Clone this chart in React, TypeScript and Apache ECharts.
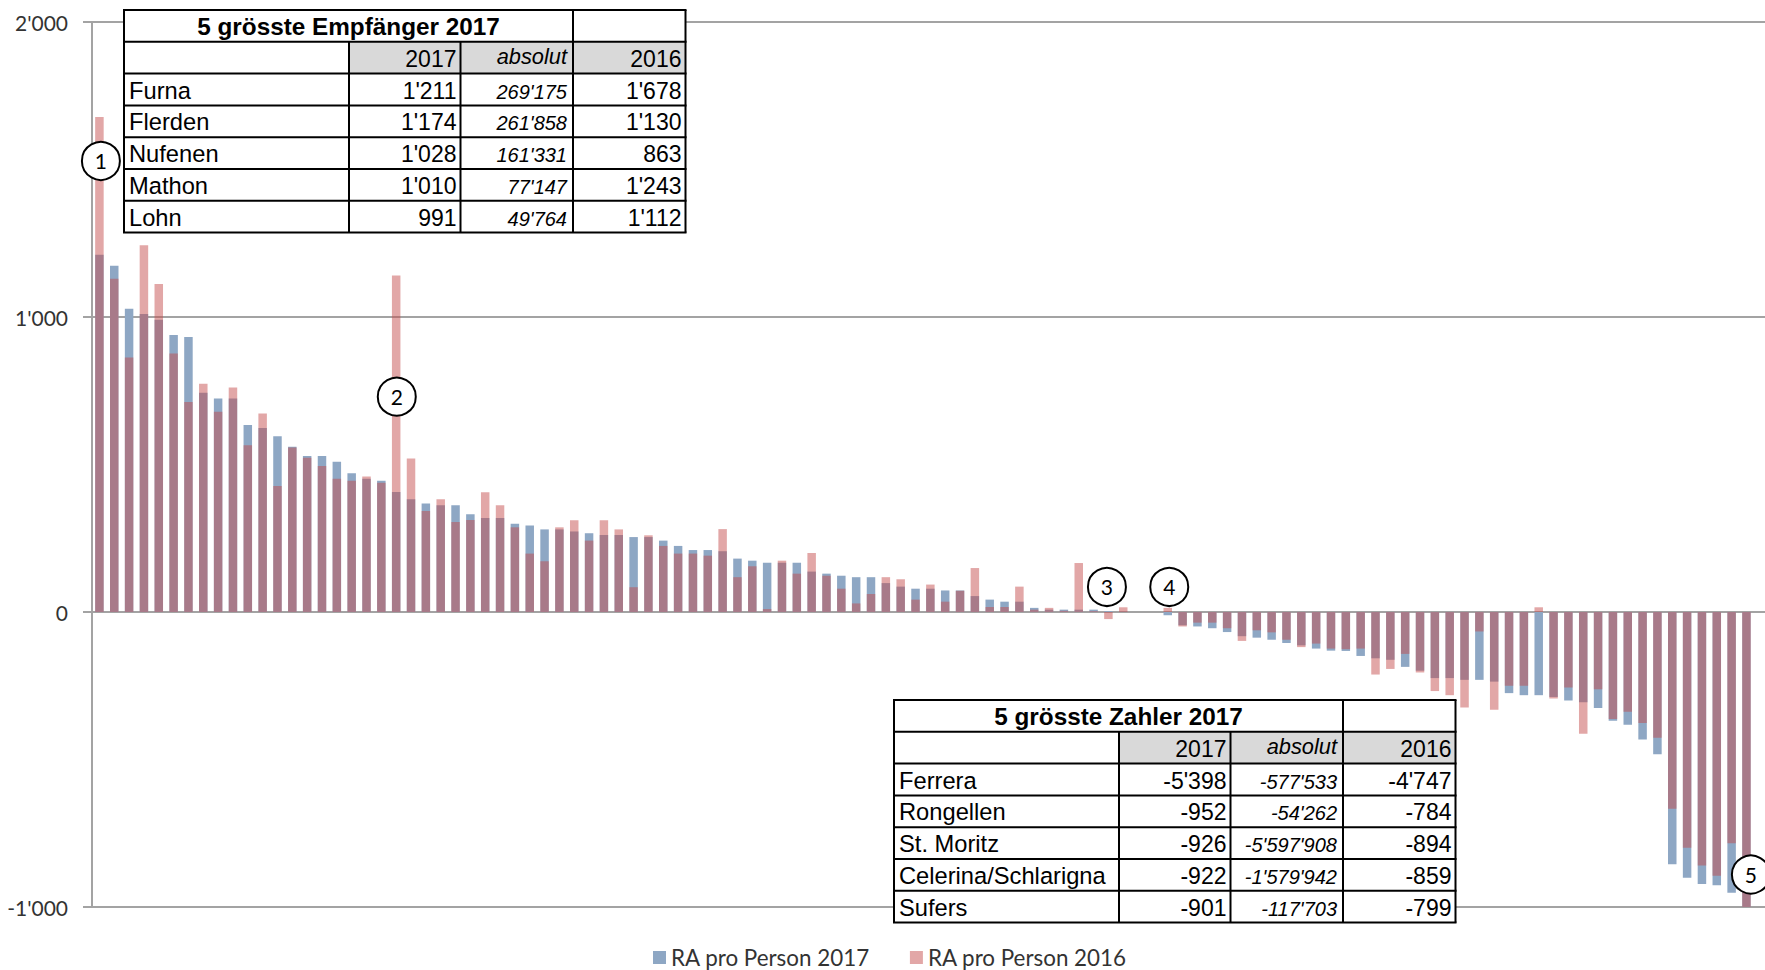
import React, { useEffect, useRef } from "react";
import * as echarts from "echarts";

// RA pro Person, sorted by 2017 value (one entry per municipality)
const values2017 = [
  1211, 1174, 1028, 1010, 991, 939, 932, 743, 724, 724,
  634, 624, 596, 560, 529, 529, 509, 470, 452, 445,
  407, 382, 368, 362, 362, 331, 319, 319, 299, 293,
  280, 280, 273, 267, 261, 261, 254, 254, 242, 224,
  210, 210, 206, 181, 174, 167, 167, 167, 137, 130,
  123, 118, 118, 98, 86, 79, 79, 73, 73, 54,
  42, 35, 35, 14, 8, 8, 8, 8, 3, 1,
  0, 0, -11, -45, -49, -55, -68, -82, -87, -94,
  -105, -113, -124, -131, -132, -149, -157, -162, -186, -199,
  -224, -224, -230, -230, -236, -275, -282, -282, -288, -300,
  -306, -325, -369, -382, -432, -482, -855, -901, -922, -926,
  -952, -5398,
];
const values2016 = [
  1678, 1130, 863, 1243, 1112, 876, 712, 774, 679, 761,
  565, 673, 427, 558, 523, 495, 452, 445, 459, 438,
  1141, 520, 342, 382, 305, 312, 406, 362, 287, 198,
  172, 287, 311, 242, 311, 280, 84, 260, 224, 198,
  198, 191, 281, 118, 155, 10, 174, 130, 200, 123,
  79, 29, 61, 118, 111, 42, 93, 35, 72, 149,
  17, 17, 86, 8, 14, 4, 166, 3, -24, 16,
  0, 0, 14, -49, -36, -36, -55, -98, -62, -69,
  -94, -119, -107, -124, -126, -124, -212, -193, -142, -205,
  -268, -282, -324, -66, -331, -250, -250, 16, -293, -256,
  -413, -262, -363, -338, -376, -426, -667, -799, -859, -894,
  -784, -4747,
];

const seriesNames = ["RA pro Person 2017", "RA pro Person 2016"];
const yMin = -1000;
const yMax = 2000;
const yInterval = 1000;

// circled markers: [municipality position, value height, label]
const markerLabels = ["1", "2", "3", "4", "5"];
const markerX = [0.1, 20.04, 67.9, 72.1, 111.3];
const markerY = [1529, 730, 85, 85, -890];

// tables
const tableHeader = ["", "2017", "absolut", "2016"];
const recipientsTitle = "5 grösste Empfänger 2017";
const recipientNames = ["Furna", "Flerden", "Nufenen", "Mathon", "Lohn"];
const recipient2017 = ["1'211", "1'174", "1'028", "1'010", "991"];
const recipientAbs = ["269'175", "261'858", "161'331", "77'147", "49'764"];
const recipient2016 = ["1'678", "1'130", "863", "1'243", "1'112"];

const payersTitle = "5 grösste Zahler 2017";
const payerNames = ["Ferrera", "Rongellen", "St. Moritz", "Celerina/Schlarigna", "Sufers"];
const payer2017 = ["-5'398", "-952", "-926", "-922", "-901"];
const payerAbs = ["-577'533", "-54'262", "-5'597'908", "-1'579'942", "-117'703"];
const payer2016 = ["-4'747", "-784", "-894", "-859", "-799"];

const fmt = (v: number) => {
  const s = Math.abs(v).toString().replace(/\B(?=(\d{3})+(?!\d))/g, "'");
  return (v < 0 ? "-" : "") + s;
};

const COLW = [225, 111.5, 112.5, 112.5];
const ROWH = 31.8;
const TFONT = "Liberation Sans, Arial, sans-serif";
const TZ = 100;

function buildTable(left: number, top: number, title: string, names: string[], a: string[], b: string[], c: string[]) {
  const children: any[] = [];
  const xs = [left];
  COLW.forEach((w) => xs.push(xs[xs.length - 1] + w));
  const width = xs[4] - left;
  const nRows = 2 + names.length;
  const ys: number[] = [];
  for (let r = 0; r <= nRows; r++) ys.push(top + r * ROWH);
  const bottom = ys[nRows];
  children.push({ type: "rect", z: TZ, shape: { x: left, y: top, width, height: bottom - top }, style: { fill: "#fff" } });
  children.push({ type: "rect", z: TZ + 1, shape: { x: xs[1], y: ys[1], width: xs[4] - xs[1], height: ROWH }, style: { fill: "#D9D9D9" } });
  const ls = { stroke: "#000", lineWidth: 2 };
  const line = (x1: number, y1: number, x2: number, y2: number) => ({
    type: "line",
    z: TZ + 2,
    shape: { x1, y1, x2, y2 },
    style: ls,
  });
  for (let r = 0; r <= nRows; r++) children.push(line(left - 1, ys[r], xs[4] + 1, ys[r]));
  children.push(line(xs[0], top, xs[0], bottom));
  children.push(line(xs[4], top, xs[4], bottom));
  children.push(line(xs[3], top, xs[3], bottom));
  children.push(line(xs[1], ys[1], xs[1], bottom));
  children.push(line(xs[2], ys[1], xs[2], bottom));

  const txt = (text: string, x: number, y: number, align: string, opts: any = {}) => ({
    type: "text",
    z: TZ + 3,
    style: {
      text,
      x,
      y,
      textAlign: align,
      textVerticalAlign: "middle",
      fill: "#000",
      fontFamily: TFONT,
      fontSize: 23,
      ...opts,
    },
  });
  children.push(txt(title, (xs[0] + xs[3]) / 2, ys[0] + ROWH / 2 + 1, "center", { fontWeight: "bold", fontSize: 24.3 }));
  children.push(txt(tableHeader[1], xs[2] - 4, ys[1] + ROWH / 2 + 1, "right"));
  children.push(txt(tableHeader[2], xs[3] - 6, ys[1] + ROWH / 2 - 1, "right", { fontStyle: "italic", fontSize: 21.8 }));
  children.push(txt(tableHeader[3], xs[4] - 4, ys[1] + ROWH / 2 + 1, "right"));
  names.forEach((n, i) => {
    const cy = ys[2 + i] + ROWH / 2 + 1;
    children.push(txt(n, xs[0] + 5, cy, "left", { fontSize: 23.7 }));
    children.push(txt(a[i], xs[2] - 4, cy, "right"));
    children.push(txt(b[i], xs[3] - 6, cy + 1, "right", { fontStyle: "italic", fontSize: 20 }));
    children.push(txt(c[i], xs[4] - 4, cy, "right"));
  });
  return { type: "group", z: TZ, children };
}

export default function App() {
  const ref = useRef<HTMLDivElement>(null);
  useEffect(() => {
    if (!ref.current) return;
    const chart = echarts.init(ref.current, null, { renderer: "svg" });
    const N = values2017.length;
    const lineStyle = { color: "#a3a3a3", width: 2 };
    const option: any = {
      animation: false,
      grid: { left: 92, right: 0, top: 22, bottom: 63 },
      xAxis: {
        type: "value",
        min: -0.5,
        max: N + 0.25,
        axisLine: { show: true, onZero: true, lineStyle },
        axisTick: { show: false },
        axisLabel: { show: false },
        splitLine: { show: false },
      },
      yAxis: {
        type: "value",
        min: yMin,
        max: yMax,
        interval: yInterval,
        axisLine: { show: true, onZero: false, lineStyle },
        axisTick: { show: true, length: 9, lineStyle },
        axisLabel: {
          formatter: (v: number) => fmt(v),
          fontSize: 21,
          fontFamily: "Lato, sans-serif",
          color: "#333",
          margin: 24,
        },
        splitLine: { show: true, lineStyle },
      },
      legend: {
        data: seriesNames,
        left: 653,
        top: 946.5,
        padding: 0,
        icon: "rect",
        itemWidth: 13,
        itemHeight: 13,
        itemGap: 40,
        textStyle: { fontFamily: "Lato, sans-serif", fontSize: 22.4, lineHeight: 22, color: "#333" },
      },
      series: [
        {
          name: seriesNames[0],
          type: "bar",
          barWidth: 8.5,
          barGap: "-100%",
          itemStyle: { color: "#8EA7C4" },
          data: values2017.map((v, i) => [i, v]),
        },
        {
          name: seriesNames[1],
          type: "bar",
          barWidth: 8.5,
          barGap: "-100%",
          itemStyle: { color: "rgba(196,75,75,0.49)" },
          data: values2016.map((v, i) => [i, v]),
          markPoint: {
            symbol: "circle",
            symbolSize: 38,
            itemStyle: { color: "#fff", borderColor: "#000", borderWidth: 2 },
            label: {
              show: true,
              position: "inside",
              formatter: (p: any) => p.name,
              color: "#000",
              fontSize: 21,
              fontFamily: "Lato, sans-serif",
            },
            data: markerLabels.map((n, i) => ({ name: n, coord: [markerX[i], markerY[i]] })),
          },
        },
      ],
      graphic: [
        buildTable(124, 10, recipientsTitle, recipientNames, recipient2017, recipientAbs, recipient2016),
        buildTable(894, 700, payersTitle, payerNames, payer2017, payerAbs, payer2016),
      ],
    };
    chart.setOption(option);
    return () => chart.dispose();
  }, []);
  return (
    <div
      ref={ref}
      style={{ position: "fixed", left: 0, top: 0, width: 1765, height: 970, background: "#fff" }}
    />
  );
}
